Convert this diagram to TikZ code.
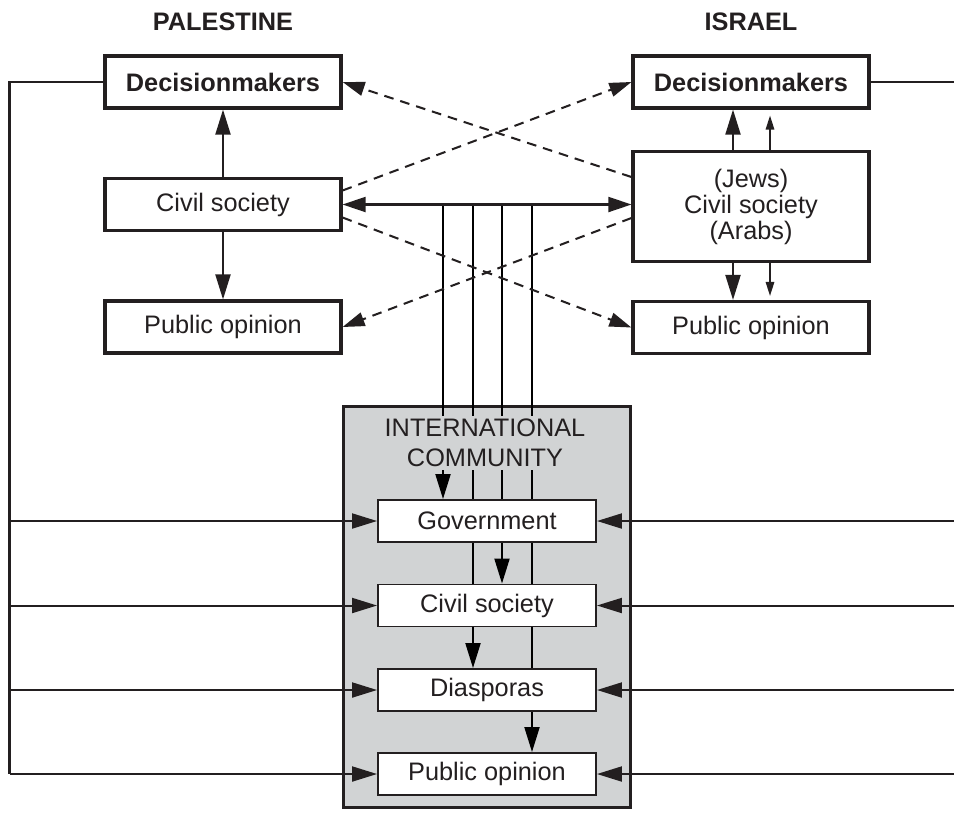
\documentclass[tikz,border=0pt]{standalone}
\usepackage{fontspec}
\setmainfont{Liberation Sans}
\usepackage{xcolor}
\usetikzlibrary{positioning, arrows.meta}
\definecolor{ink}{RGB}{35,31,32}
\definecolor{icgray}{RGB}{209,211,212}
\pgfdeclarelayer{back}
\pgfdeclarelayer{wires}
\pgfsetlayers{back,wires,main}

\begin{document}
\begin{tikzpicture}[scale=1.0, color=ink,
    font=\fontsize{14.4}{15}\selectfont,
    box/.style={draw=ink, line width=1.8pt, fill=white, align=center,
        minimum width=4.72cm, minimum height=1.04cm},
    inbox/.style={draw=ink, line width=1.1pt, fill=white,
        minimum width=4.36cm, minimum height=0.84cm},
    link/.style={line width=1.15pt},
    thinlink/.style={line width=0.85pt, -{Triangle[length=0.28cm, width=0.17cm]}},
    big/.style={-{Triangle[length=0.5cm, width=0.3cm]}},
    dashlink/.style={line width=1.15pt, dash pattern=on 5.5pt off 4pt,
        -{Triangle[length=0.44cm, width=0.28cm]}}]
    \useasboundingbox (0,0) rectangle (19.08,-16.24);

    % column titles
    \node[font=\fontsize{14.4}{15}\selectfont\bfseries] (palTitle) at (4.46,-0.44) {PALESTINE};
    \node[font=\fontsize{14.4}{15}\selectfont\bfseries] (isrTitle) at (15.02,-0.44) {ISRAEL};

    % Palestine side
    \node[box, font=\fontsize{14.4}{15}\selectfont\bfseries] (palDec) at (4.46,-1.64) {Decisionmakers};
    \node[box] (palCiv) at (4.46,-4.09) {Civil society};
    \node[box] (palPub) at (4.46,-6.54) {Public opinion};

    % Israel side
    \node[box, font=\fontsize{14.4}{14.8}\selectfont\bfseries] (isrDec) at (15.02,-1.64) {Decisionmakers};
    \node[box, minimum height=2.2cm, font=\fontsize{14.4}{14.8}\selectfont] (isrCiv) at (15.02,-4.13)
        {(Jews)\\Civil society\\(Arabs)};
    \node[box] (isrPub) at (15.02,-6.55) {Public opinion};

    % international community
    \begin{pgfonlayer}{back}
        \node[draw=ink, line width=1.5pt, fill=icgray, minimum width=5.75cm,
            minimum height=8.03cm] (intBox) at (9.74,-12.14) {};
    \end{pgfonlayer}
    \node[fill=icgray, inner sep=1.5pt, align=center, font=\fontsize{14.4}{17}\selectfont]
        (intTitle) at (9.70,-8.86) {INTERNATIONAL\\COMMUNITY};
    \node[inbox] (intGov) at (9.74,-10.42) {Government};
    \node[inbox] (intCiv) at (9.74,-12.11) {Civil society};
    \node[inbox] (intDia) at (9.74,-13.80) {Diasporas};
    \node[inbox] (intPub) at (9.74,-15.48) {Public opinion};

    \coordinate (lBus) at (0.19,0);
    \coordinate (rEdge) at (19.08,0);
    \coordinate (hub) at (palCiv.east -| intGov.north);

    % within each side
    \draw[link, big] (palCiv) -- (palDec);
    \draw[link, big] (palCiv) -- (palPub);
    \draw[link, big] ([xshift=-0.36cm]isrCiv.north) -- ([xshift=-0.36cm]isrDec.south);
    \draw[thinlink] ([xshift=0.38cm]isrCiv.north) -- ([xshift=0.38cm, yshift=-0.12cm]isrDec.south);
    \draw[link, big] ([xshift=-0.36cm]isrCiv.south) -- ([xshift=-0.36cm]isrPub.north);
    \draw[thinlink] ([xshift=0.38cm]isrCiv.south) -- ([xshift=0.38cm, yshift=0.08cm]isrPub.north);

    % civil society link and the dashed cross links
    \draw[link, {Triangle[length=0.46cm, width=0.3cm]}-{Triangle[length=0.46cm, width=0.3cm]}]
        (palCiv.east) -- (palCiv.east -| isrCiv.west);
    \draw[dashlink] ([yshift=0.28cm]palCiv.east) -- (isrDec.west);
    \draw[dashlink] ([yshift=-0.26cm]palCiv.east) -- (isrPub.west);
    \draw[dashlink] ([yshift=0.59cm]isrCiv.west) -- (palDec.east);
    \draw[dashlink] ([yshift=-0.23cm]isrCiv.west) -- (palPub.east);

    % down into the international community
    \begin{pgfonlayer}{wires}
        \foreach \dx/\tgt in {-0.88/intGov, -0.28/intDia, 0.3/intCiv, 0.9/intPub}
            \draw[link, big] ([xshift=\dx cm]hub) -- ([xshift=\dx cm]\tgt.north);
    \end{pgfonlayer}

    % decisionmakers to the international community
    \draw[link] (palDec.west) -| (lBus |- intPub.west);
    \draw[link] (isrDec.east) -- (rEdge |- isrDec.east);
    \foreach \n in {intGov, intCiv, intDia, intPub} {
        \draw[link, big] (lBus |- \n.west) -- (\n.west);
        \draw[link, big] (rEdge |- \n.east) -- (\n.east);
    }
\end{tikzpicture}
\end{document}
